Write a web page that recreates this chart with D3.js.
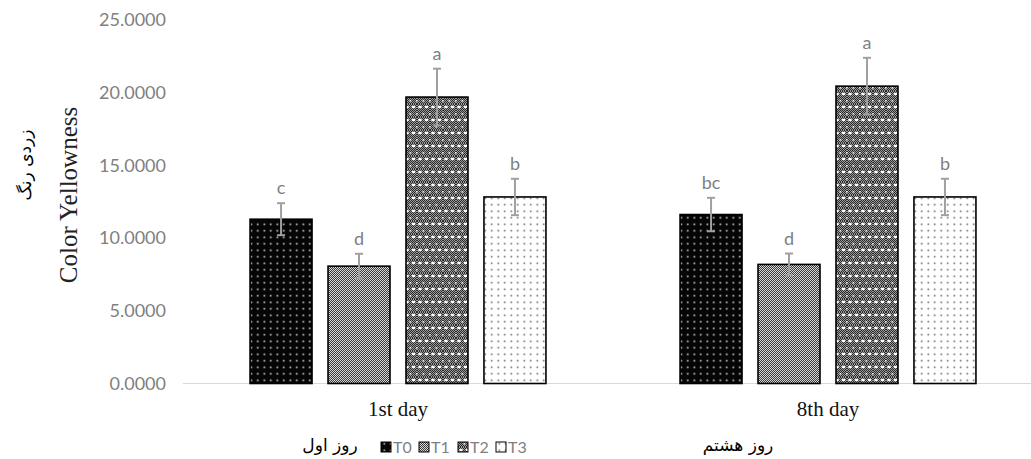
<!DOCTYPE html>
<html>
<head>
<meta charset="utf-8">
<script src="https://cdn.jsdelivr.net/npm/d3@7"></script>
<style>
  body { margin: 0; background: #fff; }
  svg { display: block; }
</style>
</head>
<body>
<div id="chart"></div>
<script>
// data
const categories = ['1st day', '8th day'];
const categoriesFa = ['روز اول', 'روز هشتم'];
const series = ['T0', 'T1', 'T2', 'T3'];
const meanDay1 = [11.30, 8.07, 19.70, 12.83];
const meanDay8 = [11.62, 8.19, 20.45, 12.83];
const errDay1 = [1.10, 0.85, 1.95, 1.25];
const errDay8 = [1.15, 0.75, 1.95, 1.25];
const lettersDay1 = ['c', 'd', 'a', 'b'];
const lettersDay8 = ['bc', 'd', 'a', 'b'];
const yTicks = [0, 5, 10, 15, 20, 25];

const width = 1031, height = 459;
const margin = { top: 20, left: 183, bottom: 75.5 };

const rows = categories.map((c, i) => ({
    group: c,
    values: series.map((s, j) => ({
        key: s,
        value: [meanDay1, meanDay8][i][j],
        err: [errDay1, errDay8][i][j],
        letter: [lettersDay1, lettersDay8][i][j]
    }))
}));

const svg = d3.select('#chart').append('svg')
    .attr('width', width)
    .attr('height', height);

// patterns for each treatment
const defs = svg.append('defs');

// T0: black with light dots
const p0 = defs.append('pattern').attr('id', 'pT0').attr('patternUnits', 'userSpaceOnUse')
    .attr('width', 6.5).attr('height', 6.5);
p0.append('rect').attr('width', 6.5).attr('height', 6.5).attr('fill', '#050505');
p0.append('rect').attr('x', 2.5).attr('y', 2.5).attr('width', 1.6).attr('height', 1.6).attr('fill', '#d8d8d8');

// T1: fine grey checker
const p1 = defs.append('pattern').attr('id', 'pT1').attr('patternUnits', 'userSpaceOnUse')
    .attr('width', 2).attr('height', 2);
p1.append('rect').attr('width', 2).attr('height', 2).attr('fill', '#d8d8d8');
p1.append('rect').attr('width', 1).attr('height', 1).attr('fill', '#3a3a3a');
p1.append('rect').attr('x', 1).attr('y', 1).attr('width', 1).attr('height', 1).attr('fill', '#3a3a3a');

// T2: darker checker with white diamonds
const p2b = defs.append('pattern').attr('id', 'pT2base').attr('patternUnits', 'userSpaceOnUse')
    .attr('width', 2).attr('height', 2);
p2b.append('rect').attr('width', 2).attr('height', 2).attr('fill', '#9a9a9a');
p2b.append('rect').attr('width', 1).attr('height', 1).attr('fill', '#2a2a2a');
p2b.append('rect').attr('x', 1).attr('y', 1).attr('width', 1).attr('height', 1).attr('fill', '#2a2a2a');
const p2 = defs.append('pattern').attr('id', 'pT2').attr('patternUnits', 'userSpaceOnUse')
    .attr('width', 13).attr('height', 13);
p2.append('rect').attr('width', 13).attr('height', 13).attr('fill', 'url(#pT2base)');
p2.append('ellipse').attr('cx', 3).attr('cy', 3).attr('rx', 1.9).attr('ry', 1.3).attr('fill', '#fff');
p2.append('ellipse').attr('cx', 9.5).attr('cy', 3).attr('rx', 1.9).attr('ry', 1.3).attr('fill', '#fff');
p2.append('rect').attr('x', 5.6).attr('y', 9).attr('width', 1.6).attr('height', 1.6).attr('fill', '#f4f4f4');
p2.append('rect').attr('x', 12).attr('y', 9).attr('width', 1).attr('height', 1.6).attr('fill', '#f4f4f4');
p2.append('rect').attr('x', 0).attr('y', 9).attr('width', 0.6).attr('height', 1.6).attr('fill', '#f4f4f4');

// T3: white with small dark dots
const p3 = defs.append('pattern').attr('id', 'pT3').attr('patternUnits', 'userSpaceOnUse')
    .attr('width', 6.5).attr('height', 6.5);
p3.append('rect').attr('width', 6.5).attr('height', 6.5).attr('fill', '#fff');
p3.append('rect').attr('x', 2.5).attr('y', 2.5).attr('width', 1.5).attr('height', 1.5).attr('fill', '#555');

const fills = { T0: 'url(#pT0)', T1: 'url(#pT1)', T2: 'url(#pT2)', T3: 'url(#pT3)' };

// scales
const x = d3.scaleBand().domain(categories).range([margin.left, margin.left + 860]);
const xSub = d3.scaleBand().domain(series).range([0, x.bandwidth()])
    .paddingInner(0.205).paddingOuter(0.86);
const y = d3.scaleLinear().domain([0, 25]).range([height - margin.bottom, margin.top]);

// y tick labels
svg.append('g')
    .selectAll('text')
    .data(yTicks)
    .join('text')
    .attr('x', 166)
    .attr('y', d => y(d))
    .attr('dy', '0.35em')
    .attr('text-anchor', 'end')
    .attr('font-family', 'Lato, "Open Sans", sans-serif')
    .attr('font-size', 18)
    .attr('fill', '#7f7f7f')
    .text(d => d3.format('.4f')(d));

// baseline
svg.append('line')
    .attr('x1', margin.left).attr('x2', width)
    .attr('y1', y(0)).attr('y2', y(0))
    .attr('stroke', '#d9d9d9').attr('stroke-width', 1.2);

// bars
const groups = svg.append('g')
    .selectAll('g')
    .data(rows)
    .join('g')
    .attr('transform', d => `translate(${x(d.group)},0)`);

groups.selectAll('rect')
    .data(d => d.values)
    .join('rect')
    .attr('x', d => xSub(d.key))
    .attr('y', d => y(d.value))
    .attr('width', xSub.bandwidth())
    .attr('height', d => y(0) - y(d.value))
    .attr('fill', d => fills[d.key])
    .attr('stroke', '#000')
    .attr('stroke-width', 1.6);

// error bars
const eb = groups.selectAll('g.err')
    .data(d => d.values)
    .join('g')
    .attr('class', 'err')
    .attr('stroke', '#a0a0a0')
    .attr('stroke-width', 2);
eb.append('line')
    .attr('x1', d => xSub(d.key) + xSub.bandwidth() / 2)
    .attr('x2', d => xSub(d.key) + xSub.bandwidth() / 2)
    .attr('y1', d => y(d.value + d.err))
    .attr('y2', d => y(d.value - d.err));
eb.append('line')
    .attr('x1', d => xSub(d.key) + xSub.bandwidth() / 2 - 4)
    .attr('x2', d => xSub(d.key) + xSub.bandwidth() / 2 + 4)
    .attr('y1', d => y(d.value + d.err))
    .attr('y2', d => y(d.value + d.err));
eb.append('line')
    .attr('x1', d => xSub(d.key) + xSub.bandwidth() / 2 - 4)
    .attr('x2', d => xSub(d.key) + xSub.bandwidth() / 2 + 4)
    .attr('y1', d => y(d.value - d.err))
    .attr('y2', d => y(d.value - d.err));

// significance letters
groups.selectAll('text.letter')
    .data(d => d.values)
    .join('text')
    .attr('class', 'letter')
    .attr('x', d => xSub(d.key) + xSub.bandwidth() / 2)
    .attr('y', d => y(d.value + d.err) - 9)
    .attr('text-anchor', 'middle')
    .attr('font-family', 'Lato, "Open Sans", sans-serif')
    .attr('font-size', 18)
    .attr('fill', '#7f7f7f')
    .text(d => d.letter);

// category labels
svg.append('g')
    .selectAll('text')
    .data(categories)
    .join('text')
    .attr('x', d => x(d) + x.bandwidth() / 2)
    .attr('y', 416)
    .attr('text-anchor', 'middle')
    .attr('font-family', '"Liberation Serif", "Times New Roman", serif')
    .attr('font-size', 21)
    .attr('fill', '#111')
    .text(d => d);

// persian category labels
const faX = [330, 738];
svg.append('g')
    .selectAll('text')
    .data(categoriesFa)
    .join('text')
    .attr('x', (d, i) => faX[i])
    .attr('y', 451)
    .attr('text-anchor', 'middle')
    .attr('direction', 'rtl')
    .attr('font-family', '"DejaVu Sans", "Noto Sans", sans-serif')
    .attr('font-size', 17)
    .attr('fill', '#000')
    .text(d => d);

// y axis titles
svg.append('text')
    .attr('transform', `translate(77,195) rotate(-90)`)
    .attr('text-anchor', 'middle')
    .attr('font-family', '"Liberation Serif", "Times New Roman", serif')
    .attr('font-size', 25)
    .attr('fill', '#222')
    .text('Color Yellowness');

svg.append('text')
    .attr('transform', `translate(31,165) rotate(-90)`)
    .attr('text-anchor', 'middle')
    .attr('direction', 'rtl')
    .attr('font-family', '"DejaVu Sans", "Noto Sans", sans-serif')
    .attr('font-size', 17)
    .attr('fill', '#000')
    .text('زردی رنگ');

// legend
const legendX = [381, 419, 458, 496];
const legend = svg.append('g')
    .selectAll('g')
    .data(series)
    .join('g')
    .attr('transform', (d, i) => `translate(${legendX[i]},447)`);
legend.append('rect')
    .attr('x', 0).attr('y', -5)
    .attr('width', 10).attr('height', 10)
    .attr('fill', d => fills[d])
    .attr('stroke', '#000').attr('stroke-width', 1);
legend.append('text')
    .attr('x', 12).attr('y', 0)
    .attr('dy', '0.35em')
    .attr('font-family', 'Lato, "Open Sans", sans-serif')
    .attr('font-size', 16)
    .attr('fill', '#7f7f7f')
    .text(d => d);
</script>
</body>
</html>
